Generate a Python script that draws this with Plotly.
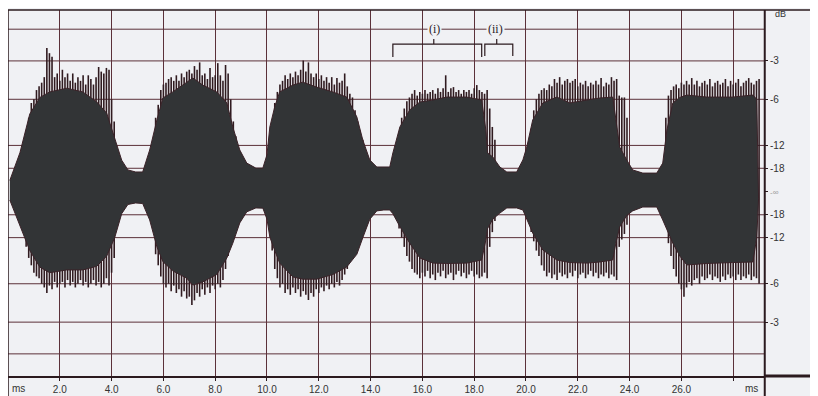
import plotly.graph_objects as go

# ---------------- data (time in ms, amplitude in % of full scale) ----------------
# solid body of the waveform envelope
env_t = [0.07, 0.46, 0.84, 1.23, 1.61, 2.27, 2.89, 3.43, 3.81, 4.12, 4.39, 4.63, 4.93, 5.20,
         5.47, 5.75, 5.98, 6.36, 6.90, 7.14, 7.52, 8.06, 8.45, 8.68, 8.95, 9.22, 9.57, 9.84,
         10.0, 10.11, 10.3, 10.49, 11.00, 11.38, 11.92, 12.54, 13.08, 13.47, 13.70, 13.97,
         14.24, 14.51, 14.74, 14.86, 15.13, 15.51, 15.90, 16.40, 16.94, 17.71, 18.29, 18.45,
         18.52, 18.72, 18.99, 19.26, 19.64, 19.88, 20.03, 20.26, 20.65, 21.19, 21.69, 22.35,
         22.85, 23.35, 23.47, 23.62, 23.89, 24.12, 24.51, 25.05, 25.28, 25.44, 25.67, 25.94,
         26.21, 26.98, 27.98, 28.76, 28.91, 28.98]
env_upper = [6, 21, 42, 51, 54, 56, 54, 48.5, 42.5, 29.5, 17, 11.7, 10.6, 10.6,
             22.5, 38.8, 50.7, 54, 59, 61.5, 57.7, 54, 48, 35, 22.5, 15.4, 12.7, 12.7,
             20, 35, 46, 54, 57.7, 59.3, 56.6, 54, 51.2, 40.4, 27.9, 17.1,
             13.3, 13.3, 13.3, 20.9, 35, 44.2, 48.5, 49.6, 51.2, 51.2, 49.6, 33.3,
             20.9, 18.7, 13.3, 10.6, 10.6, 17.1, 24.1, 38.8, 48, 51.2, 48, 49.6,
             50.7, 51.2, 38.8, 24.1, 17.1, 11.7, 10, 10, 15.4, 33.3, 48, 51,
             52.3, 51.2, 51.2, 52.3, 50, 6]
env_lower = [-4.6, -19, -32, -41, -44, -42.5, -42.5, -40.5, -35, -25, -12, -7, -6.2, -6.5,
             -15.4, -30, -38, -43, -47, -50.7, -49, -45, -36, -28, -17, -11, -8.9, -9,
             -15, -24.7, -32, -38.8, -46.3, -47.5, -47.5, -45, -40.9, -34, -25, -15,
             -10.5, -10, -10, -12, -19, -28, -36, -38.8, -39, -38.8, -37.1, -26.3,
             -20, -15, -11.7, -8.9, -8.9, -10, -15.4, -22.5, -31.7, -37.1, -38.5, -38.8,
             -38.2, -37.1, -28, -19.2, -13, -10.5, -8.4, -8.4, -15.4, -20, -28, -35,
             -39.8, -39, -38.5, -38.2, -25, -4]

# peak spikes (tips above / below the body)
spike_t = [0.7, 0.8, 0.9, 1.0, 1.1, 1.2, 1.3, 1.4, 1.5, 1.6, 1.7, 1.8, 1.9, 2.0, 2.1, 2.2, 2.3, 2.4,
           2.5, 2.6, 2.7, 2.8, 2.9, 3.0, 3.1, 3.2, 3.3, 3.4, 3.5, 3.6, 3.7, 3.8, 3.9, 4.0, 4.1,
           5.7, 5.8, 5.9, 6.0, 6.1, 6.2, 6.3, 6.4, 6.5, 6.6, 6.7, 6.8, 6.9, 7.0, 7.1, 7.2, 7.3,
           7.4, 7.5, 7.6, 7.7, 7.8, 7.9, 8.0, 8.1, 8.2, 8.3, 8.4, 8.5, 8.6, 8.7, 8.8,
           10.2, 10.3, 10.4, 10.5, 10.6, 10.7, 10.8, 10.9, 11.0, 11.1, 11.2, 11.3, 11.4, 11.5,
           11.6, 11.7, 11.8, 11.9, 12.0, 12.1, 12.2, 12.3, 12.4, 12.5, 12.6, 12.7, 12.8, 12.9,
           13.0, 13.1, 13.2, 13.3, 13.4, 13.5, 13.6, 13.7,
           15.1, 15.2, 15.3, 15.4, 15.5, 15.6, 15.7, 15.8, 15.9, 16.0, 16.1, 16.2, 16.3, 16.4,
           16.5, 16.6, 16.7, 16.8, 16.9, 17.0, 17.1, 17.2, 17.3, 17.4, 17.5, 17.6, 17.7, 17.8,
           17.9, 18.0, 18.1, 18.2, 18.3, 18.4, 18.5, 18.6, 18.7, 18.8,
           20.2, 20.3, 20.4, 20.5, 20.6, 20.7, 20.8, 20.9, 21.0, 21.1, 21.2, 21.3, 21.4, 21.5,
           21.6, 21.7, 21.8, 21.9, 22.0, 22.1, 22.2, 22.3, 22.4, 22.5, 22.6, 22.7, 22.8, 22.9,
           23.0, 23.1, 23.2, 23.3, 23.4, 23.5, 23.6, 23.7, 23.8, 23.9,
           25.4, 25.5, 25.6, 25.7, 25.8, 25.9, 26.0, 26.1, 26.2, 26.3, 26.4, 26.5, 26.6, 26.7,
           26.8, 26.9, 27.0, 27.1, 27.2, 27.3, 27.4, 27.5, 27.6, 27.7, 27.8, 27.9, 28.0, 28.1,
           28.2, 28.3, 28.4, 28.5, 28.6, 28.7, 28.8, 28.9, 29.0]
spike_hi = [33, 40, 48, 50, 55, 57, 59, 62, 77.8, 75, 73, 62, 64, 60, 66, 62, 64, 60,
            64, 59, 62, 60, 63, 58, 63, 61, 58, 62, 67.5, 65, 64, 67, 66, 50, 38,
            40, 47, 55, 58, 59, 61, 62, 60, 63, 60, 64, 62, 65, 66, 64, 68, 66,
            70, 63, 64, 61, 67, 62, 63, 69.6, 63, 60, 68.6, 64, 50, 38, 30,
            35, 48, 54, 58, 60, 63, 61, 64, 62, 65, 63, 66, 71, 65,
            70, 64, 62, 64, 61, 63, 60, 62, 59, 62, 58, 61.5, 59, 60,
            64, 57, 53, 51, 44, 38, 33, 28,
            32, 40, 45, 49, 51, 53, 55, 52, 54, 53, 55, 53, 54, 55,
            53, 56, 54, 56, 63, 54, 56, 56.6, 54, 55, 53, 55, 54, 55,
            53, 56, 57.7, 55, 54, 53, 55, 45, 35, 28,
            34, 44, 50, 53, 55, 56, 55, 58, 57, 61, 59, 62, 58, 60,
            61, 59, 60, 61, 57, 59, 58, 60, 57, 59, 58, 60, 58, 61.5,
            57, 59, 58, 62, 60, 61, 52, 51, 51, 40,
            40, 52, 55, 57, 58, 56, 59, 58, 60, 58, 61.5, 58, 60, 57,
            59, 60, 58, 61, 57, 59, 60, 58, 59, 61, 57, 60, 58, 59,
            61, 57, 59, 60, 61.5, 59, 58, 60, 61]
spike_lo = [-30, -36, -40, -44, -46, -47, -50, -52, -55, -51, -53, -49, -52, -50, -49, -52, -48, -51,
            -49, -52, -50, -48, -51, -49, -52, -50, -48, -51, -49, -52, -50, -47, -51, -44, -36,
            -34, -40, -46, -50, -52, -50, -54, -51, -55, -53, -57, -54, -58, -57, -61.5, -59, -55,
            -57, -53, -56, -52, -55, -51, -53, -50, -52, -48, -42, -35, -28, -20, -15,
            -32, -42, -47, -52, -50, -55, -53, -56, -52, -55, -53, -57, -54, -56,
            -58.8, -55, -57, -53, -55, -52, -54, -51, -53, -50, -52, -49, -51, -48,
            -45, -42, -38, -34, -28, -26, -22, -18,
            -20, -25, -30, -35, -38, -42, -44, -45, -47, -44, -46, -43, -47, -45,
            -48, -44, -46, -43, -47, -45, -44, -48, -45, -43, -46, -44, -47, -45,
            -43, -46, -45, -47, -46, -44, -47, -30, -22, -16,
            -22, -27, -32, -35, -40, -43, -46, -44, -47, -45, -48, -44, -46, -45,
            -47, -44, -46, -43, -47, -45, -44, -47, -45, -43, -46, -44, -47, -45,
            -46, -44, -47, -45, -46, -48, -30, -26, -23, -18,
            -18, -28, -35, -42, -46, -50, -53, -57, -52, -49, -51, -48, -47, -50,
            -46, -48, -47, -45, -48, -46, -47, -49, -46, -48, -45, -47, -46, -48,
            -45, -48, -46, -47, -45, -48, -46, -47, -50]

# axis labelling
x_tick_vals = [2, 4, 6, 8, 10, 12, 14, 16, 18, 20, 22, 24, 26, 28]
x_tick_text = ["2.0", "4.0", "6.0", "8.0", "10.0", "12.0", "14.0", "16.0", "18.0",
               "20.0", "22.0", "24.0", "26.0", ""]
db_levels = [70.8, 50, 25, 12.6, 0, -12.6, -25, -50, -70.8]
db_text = ["-3", "-6", "-12", "-18", "<span style='font-size:8px;color:#9a9a9a'>-∞</span>",
           "-18", "-12", "-6", "-3"]
h_grid_levels = [88, 70.8, 50, 25, 12.6, -12.6, -25, -50, -70.8, -88]

assert len(env_t) == len(env_upper) == len(env_lower)
assert len(spike_t) == len(spike_hi) == len(spike_lo)

BG = "#f0f1f4"
GRID = "#5b3139"
DARK = "#2b1a1e"
BODY = "#323436"
SPIKE = "#301b20"

fig = go.Figure()

# spikes
sx, sy = [], []
for t, hi, lo in zip(spike_t, spike_hi, spike_lo):
    sx += [t, t, None]
    sy += [lo, hi, None]
fig.add_trace(go.Scatter(x=sx, y=sy, mode="lines", line=dict(color=SPIKE, width=1.6),
                         hoverinfo="skip", showlegend=False))

# body
fig.add_trace(go.Scatter(x=env_t + env_t[::-1], y=env_upper + env_lower[::-1],
                         mode="lines", fill="toself", fillcolor=BODY,
                         line=dict(color="#3a2228", width=1),
                         hoverinfo="skip", showlegend=False))

shapes = []
for lv in h_grid_levels:
    shapes.append(dict(type="line", xref="paper", yref="y", x0=0, x1=1, y0=lv, y1=lv,
                       line=dict(color=GRID, width=1), layer="below"))
# frame
shapes += [
    dict(type="line", xref="paper", yref="paper", x0=0, x1=1.072, y0=1, y1=1,
         line=dict(color=DARK, width=1.5)),
    dict(type="line", xref="paper", yref="paper", x0=0, x1=0, y0=-0.06, y1=1,
         line=dict(color=DARK, width=1.5)),
    dict(type="line", xref="paper", yref="paper", x0=1.001, x1=1.001, y0=-0.06, y1=1,
         line=dict(color=DARK, width=2)),
    dict(type="line", xref="paper", yref="paper", x0=1, x1=1.072, y0=0, y1=0,
         line=dict(color=DARK, width=3)),
]
# brackets (i) and (ii)
def bracket(x0, x1, xm, ytop, yleg, ytick):
    return dict(type="path", xref="x", yref="y",
                path=f"M {x0},{yleg} L {x0},{ytop} L {x1},{ytop} L {x1},{yleg} "
                     f"M {xm},{ytop} L {xm},{ytick}",
                line=dict(color=DARK, width=1.2))
shapes.append(bracket(14.86, 18.29, 16.44, 79.9, 72.9, 82.7))
shapes.append(bracket(18.41, 19.49, 18.87, 79.9, 73.5, 82.7))

annotations = [
    dict(x=16.48, y=88, xref="x", yref="y", text="(i)", showarrow=False,
         font=dict(family="Liberation Serif", size=12, color=DARK), bgcolor=BG,
         borderpad=1),
    dict(x=18.83, y=88, xref="x", yref="y", text="(ii)", showarrow=False,
         font=dict(family="Liberation Serif", size=12, color=DARK), bgcolor=BG,
         borderpad=1),
    dict(x=1.012, y=0.99, xref="paper", yref="paper", text="dB", showarrow=False,
         xanchor="left", yanchor="middle",
         font=dict(family="Liberation Sans", size=9, color="#333")),
    dict(x=0.003, y=-0.033, xref="paper", yref="paper", text="ms", showarrow=False,
         xanchor="left", yanchor="middle",
         font=dict(family="Liberation Sans", size=10, color="#333")),
    dict(x=0.972, y=-0.033, xref="paper", yref="paper", text="ms", showarrow=False,
         xanchor="left", yanchor="middle",
         font=dict(family="Liberation Sans", size=10, color="#333")),
]

# page body has an 8 px default margin, so the figure is sized to fill the rest
fig.update_layout(
    width=810, height=388, autosize=False,
    margin=dict(l=0, r=54, t=2, b=20, pad=0),
    paper_bgcolor=BG, plot_bgcolor=BG,
    shapes=shapes, annotations=annotations,
    xaxis=dict(range=[0, 29.19], tickvals=x_tick_vals, ticktext=x_tick_text,
               showgrid=True, gridcolor=GRID, gridwidth=1, zeroline=False,
               showline=True, linecolor=DARK, linewidth=1.5,
               ticks="outside", ticklen=3, tickcolor=DARK,
               tickfont=dict(family="Liberation Sans", size=10, color="#333")),
    yaxis=dict(range=[-100, 98.4], side="right", tickvals=db_levels, ticktext=db_text,
               showgrid=False, zeroline=False, showline=False,
               ticks="outside", ticklen=3, tickcolor=DARK,
               tickfont=dict(family="Liberation Sans", size=10, color="#333")),
)

fig.write_html("out.html")
